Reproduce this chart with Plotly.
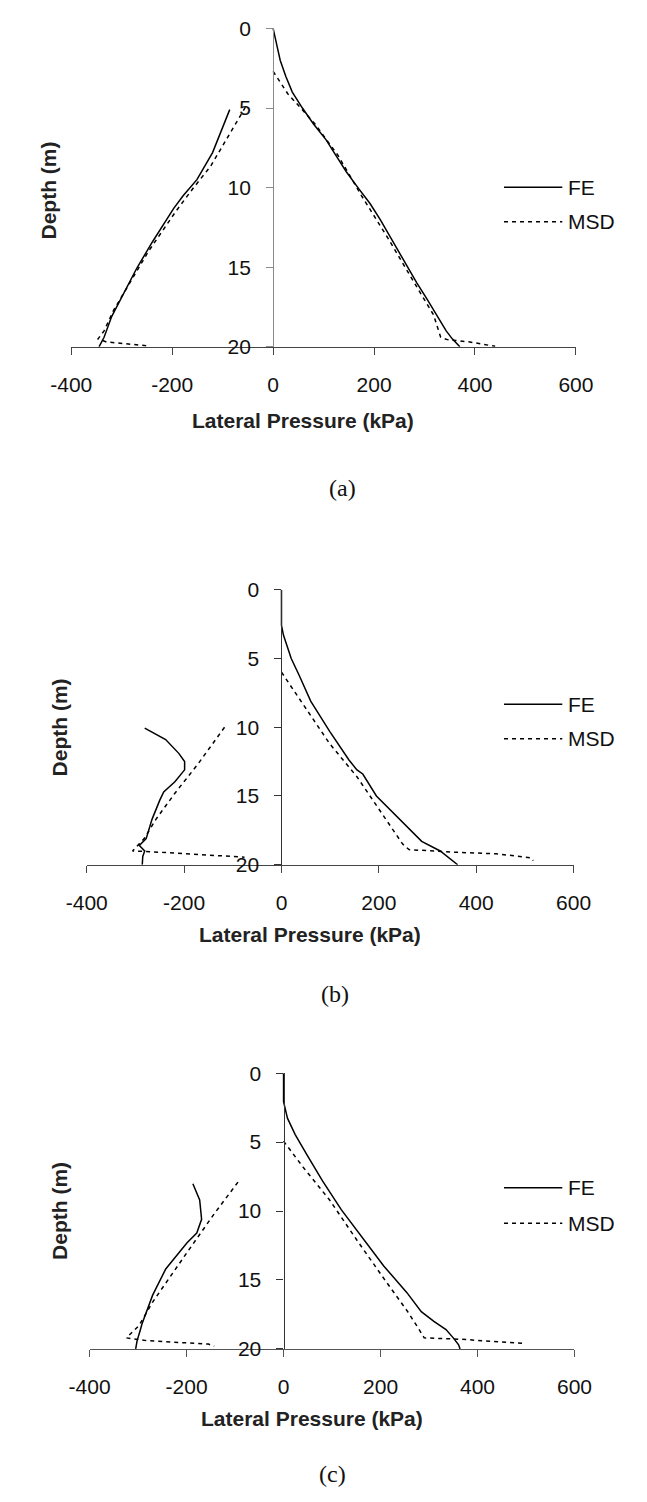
import plotly.graph_objects as go

W, H = 647, 1502

# ---------------- data (lateral pressure kPa, depth m) ----------------
# Panel (a)
a_fe_right_x = [0, 3, 7, 14, 25, 38, 58, 80, 105, 125, 145, 168, 192, 212, 230, 248, 266, 285, 305, 324, 343, 355, 370]
a_fe_right_y = [0, 0.5, 1.0, 2.0, 3.0, 4.0, 5.0, 6.0, 7.0, 8.0, 9.0, 10.0, 11.0, 12.0, 13.0, 14.0, 15.0, 16.0, 17.0, 18.0, 19.0, 19.5, 20.0]
a_msd_right_x = [0, 29, 83, 129, 175, 228, 282, 318, 332, 345, 390, 440]
a_msd_right_y = [2.7, 4.1, 6.0, 8.0, 10.5, 13.2, 16.1, 18.0, 19.4, 19.55, 19.7, 19.97]
a_fe_left_x = [-86, -103, -120, -151, -178, -197, -239, -270, -300, -320, -335, -345]
a_fe_left_y = [5.1, 6.5, 7.8, 9.5, 10.5, 11.3, 13.4, 15.05, 16.9, 18.1, 19.4, 20.0]
a_msd_left_x = [-55, -90, -124, -160, -193, -247, -283, -316, -335, -347, -330, -245]
a_msd_left_y = [4.95, 6.8, 8.66, 10.1, 11.5, 14.0, 15.9, 17.7, 19.0, 19.5, 19.7, 19.95]

# Panel (b)
b_fe_right_x = [0, 0, 4, 20, 36, 60, 99, 139, 155, 167, 195, 245, 288, 326, 362]
b_fe_right_y = [0, 2.6, 3.3, 5.0, 6.2, 8.1, 10.3, 12.4, 13.1, 13.4, 15.0, 16.8, 18.3, 19.0, 20.0]
b_msd_right_x = [0, 36, 99, 155, 187, 227, 249, 262, 362, 441, 513, 517]
b_msd_right_y = [6.0, 7.9, 11.2, 13.6, 15.3, 17.4, 18.5, 18.9, 19.1, 19.2, 19.5, 19.7]
b_fe_left_x = [-281, -238, -211, -199, -199, -219, -242, -250, -266, -278, -292, -281, -285, -286]
b_fe_left_y = [10.07, 10.9, 11.9, 12.5, 13.1, 13.96, 14.7, 15.3, 16.7, 18.1, 18.6, 19.0, 19.4, 20.0]
b_msd_left_x = [-117, -171, -219, -258, -282, -295, -306, -270, -180, -76]
b_msd_left_y = [10.0, 12.65, 14.8, 16.7, 18.1, 18.6, 19.0, 19.05, 19.25, 19.45]

# Panel (c)
c_fe_right_x = [0, 0, 8, 24, 48, 80, 119, 159, 207, 254, 284, 310, 335, 350, 361, 364]
c_fe_right_y = [0, 2.07, 3.26, 4.45, 5.9, 7.8, 9.9, 11.8, 14.0, 15.9, 17.3, 18.0, 18.6, 19.2, 19.7, 20.0]
c_msd_right_x = [0, 40, 95, 151, 207, 256, 278, 287, 290, 366, 493, 494]
c_msd_right_y = [4.93, 6.8, 9.2, 12.1, 14.9, 17.3, 18.5, 19.1, 19.2, 19.3, 19.6, 19.75]
c_fe_left_x = [-187, -173, -169, -179, -199, -223, -243, -270, -283, -292, -296, -302, -305]
c_fe_left_y = [8.02, 9.2, 10.6, 11.6, 12.3, 13.3, 14.2, 16.1, 17.3, 18.2, 18.7, 19.4, 20.0]
c_msd_left_x = [-94, -143, -199, -270, -298, -324, -283, -155, -143]
c_msd_left_y = [7.9, 10.2, 13.0, 16.6, 18.3, 19.2, 19.4, 19.65, 19.8]

series_names = ["FE", "MSD"]
x_ticks = [-400, -200, 0, 200, 400, 600]
y_ticks = [0, 5, 10, 15, 20]
captions = ["(a)", "(b)", "(c)"]
x_title = "Lateral Pressure (kPa)"
y_title = "Depth (m)"

panels = [
    dict(fe=[(a_fe_right_x, a_fe_right_y), (a_fe_left_x, a_fe_left_y)],
         msd=[(a_msd_right_x, a_msd_right_y), (a_msd_left_x, a_msd_left_y)]),
    dict(fe=[(b_fe_right_x, b_fe_right_y), (b_fe_left_x, b_fe_left_y)],
         msd=[(b_msd_right_x, b_msd_right_y), (b_msd_left_x, b_msd_left_y)]),
    dict(fe=[(c_fe_right_x, c_fe_right_y), (c_fe_left_x, c_fe_left_y)],
         msd=[(c_msd_right_x, c_msd_right_y), (c_msd_left_x, c_msd_left_y)]),
]

# ---------------- layout geometry (pixels) ----------------
geo = [
    dict(x0=53.5, x1=590.5, ytop=16.7, ybot=340.0, xt=(300, 415), yt=(29, 181), cap=(342, 483),
         leg=(178, 213), ycol="#8a8a8a", xcol="#444444"),
    dict(x0=70.0, x1=588.0, ytop=586.7, ybot=866.0, xt=(308, 937), yt=(41, 727), cap=(334, 997),
         leg=(703, 738), ycol="#333333", xcol="#444444"),
    dict(x0=73.0, x1=589.0, ytop=1077.7, ybot=1357.7, xt=(310, 1428), yt=(41, 1218), cap=(332, 1485),
         leg=(1194, 1230), ycol="#333333", xcol="#555555"),
]

FONT = "Liberation Sans, Arial, sans-serif"
fig = go.Figure()
annotations = []
shapes = []

def px(x):
    return x / W

def py(y):
    return 1 - y / H

for i, (p, g) in enumerate(zip(panels, geo)):
    sfx = "" if i == 0 else str(i + 1)
    for name, key, dash in [("FE", "fe", "solid"), ("MSD", "msd", "4px,4px")]:
        xs, ys = [], []
        for sx, sy in p[key]:
            xs += list(sx) + [None]
            ys += list(sy) + [None]
        fig.add_trace(go.Scatter(
            x=xs, y=ys, mode="lines", name=name, showlegend=False,
            line=dict(color="black", width=1.5, dash=dash),
            xaxis="x" + sfx, yaxis="y" + sfx, connectgaps=False))

    dom_x = [px(g["x0"]), px(g["x1"])]
    dom_y = [py(g["ybot"]), py(g["ytop"])]
    zero_pos = dom_x[0] + (0 - x_ticks[0]) / (x_ticks[-1] - x_ticks[0]) * (dom_x[1] - dom_x[0])

    fig.layout["xaxis" + sfx] = dict(
        domain=dom_x, anchor="y" + sfx, range=[x_ticks[0], x_ticks[-1]],
        tickvals=x_ticks, ticktext=[str(v) for v in x_ticks],
        showgrid=False, zeroline=False, showline=True, linecolor=g["xcol"], linewidth=1.2,
        ticks="outside", ticklen=7, tickcolor=g["xcol"], tickwidth=1.2,
        ticklabelstandoff=12,
        tickfont=dict(family=FONT, size=21, color="#111111"))
    fig.layout["yaxis" + sfx] = dict(
        domain=dom_y, anchor="free", position=zero_pos, range=[20, 0],
        tickvals=y_ticks, ticktext=[str(v) for v in y_ticks],
        showgrid=False, zeroline=False, showline=True, linecolor=g["ycol"], linewidth=1.2,
        ticks="outside", ticklen=7, tickcolor=g["ycol"], tickwidth=1.2,
        ticklabelstandoff=11,
        tickfont=dict(family=FONT, size=21, color="#111111"))

    annotations.append(dict(text="<b>" + x_title + "</b>", x=px(g["xt"][0]), y=py(g["xt"][1]),
                            xref="paper", yref="paper", showarrow=False,
                            xanchor="center", yanchor="middle",
                            font=dict(family=FONT, size=21, color="#222222")))
    annotations.append(dict(text="<b>" + y_title + "</b>", x=px(g["yt"][0]), y=py(g["yt"][1]),
                            xref="paper", yref="paper", showarrow=False, textangle=-90,
                            xanchor="center", yanchor="middle",
                            font=dict(family=FONT, size=21, color="#222222")))
    annotations.append(dict(text=captions[i], x=px(g["cap"][0]), y=py(g["cap"][1]),
                            xref="paper", yref="paper", showarrow=False,
                            xanchor="center", yanchor="middle",
                            font=dict(family="Liberation Serif, Times New Roman, serif", size=24, color="#111111")))
    # legend (drawn manually so the sample line length matches)
    for name, ly, dash in [(series_names[0], g["leg"][0], "solid"), (series_names[1], g["leg"][1], "4px,4px")]:
        shapes.append(dict(type="line", xref="paper", yref="paper",
                           x0=px(514), x1=px(576), y0=py(ly), y1=py(ly),
                           line=dict(color="black", width=1.5, dash=dash)))
        annotations.append(dict(text=name, x=px(580), y=py(ly), xref="paper", yref="paper",
                                showarrow=False, xanchor="left", yanchor="middle",
                                font=dict(family=FONT, size=21, color="#111111")))

fig.update_layout(
    width=W, height=H, margin=dict(l=0, r=0, t=0, b=0),
    paper_bgcolor="white", plot_bgcolor="white",
    showlegend=False, annotations=annotations, shapes=shapes)

fig.write_html("out.html")
